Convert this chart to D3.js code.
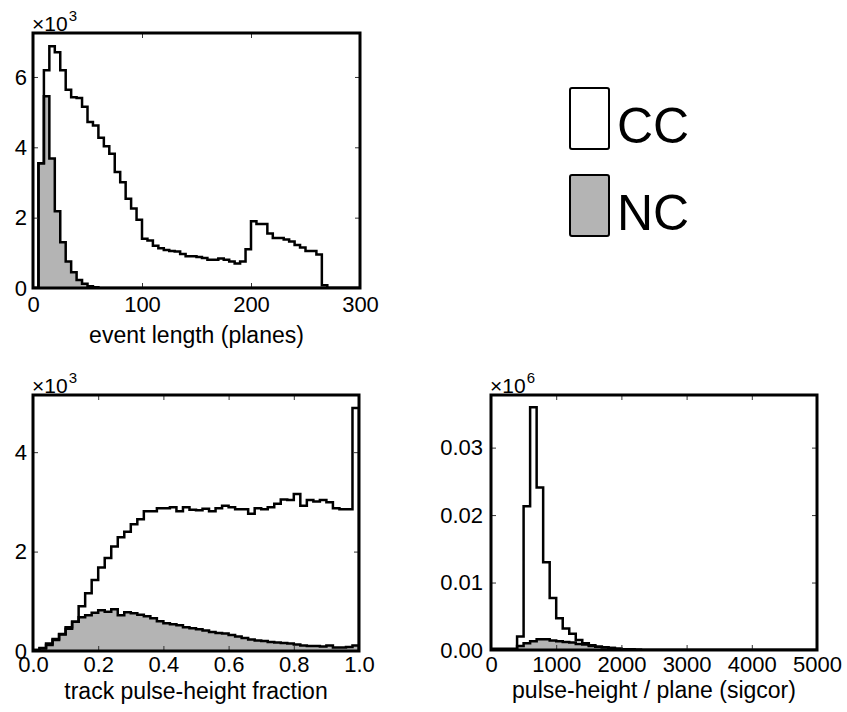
<!DOCTYPE html>
<html>
<head>
<meta charset="utf-8">
<title>CC / NC distributions</title>
<style>
body { margin: 0; background: #fff; }
svg text { font-family: 'Liberation Sans', Arial, Helvetica, sans-serif; fill: #000; }
</style>
</head>
<body>
<div id="chart"></div>
<script src="https://cdn.jsdelivr.net/npm/d3@7"></script>
<script>
// event length (planes): bins of 5 from 0 to 300, in units of 10^3
var lenBinWidth = 5;
var lenCC = [0, 3.55, 6.19, 6.87, 6.70, 6.19, 5.64, 5.42, 5.40, 5.15,
             4.72, 4.62, 4.27, 4.03, 3.82, 3.30, 3.01, 2.54, 2.26, 1.94,
             1.40, 1.35, 1.20, 1.13, 1.08, 1.05, 1.04, 0.97, 0.90, 0.90,
             0.88, 0.85, 0.80, 0.80, 0.84, 0.80, 0.75, 0.70, 0.75, 1.10,
             1.90, 1.82, 1.82, 1.55, 1.42, 1.42, 1.38, 1.32, 1.22, 1.15,
             1.05, 1.05, 0.95, 0.08, 0, 0, 0, 0, 0, 0];
var lenNC = [0, 3.55, 5.45, 3.68, 2.18, 1.30, 0.75, 0.45, 0.23, 0.12,
             0.05, 0.02, 0, 0, 0, 0, 0, 0, 0, 0,
             0, 0, 0, 0, 0, 0, 0, 0, 0, 0,
             0, 0, 0, 0, 0, 0, 0, 0, 0, 0,
             0, 0, 0, 0, 0, 0, 0, 0, 0, 0,
             0, 0, 0, 0, 0, 0, 0, 0, 0, 0];
var lenXTicks = [0, 100, 200, 300];
var lenYTicks = [0, 2, 4, 6];

// track pulse-height fraction: bins of 0.02 from 0 to 1, in units of 10^3
var fracBinWidth = 0.02;
var fracCC = [0.02, 0.05, 0.12, 0.22, 0.33, 0.45, 0.59, 0.90, 1.16, 1.43,
              1.68, 1.87, 2.10, 2.29, 2.40, 2.55, 2.65, 2.81, 2.81, 2.87,
              2.87, 2.89, 2.81, 2.89, 2.84, 2.83, 2.86, 2.81, 2.87, 2.92,
              2.89, 2.85, 2.85, 2.76, 2.87, 2.85, 2.89, 2.96, 3.05, 3.04,
              3.16, 2.92, 3.04, 3.01, 3.04, 2.99, 2.87, 2.85, 2.85, 4.89];
var fracNC = [0.02, 0.06, 0.15, 0.24, 0.34, 0.48, 0.59, 0.68, 0.72, 0.77,
              0.82, 0.79, 0.84, 0.72, 0.78, 0.76, 0.73, 0.70, 0.66, 0.60,
              0.56, 0.54, 0.52, 0.48, 0.46, 0.44, 0.41, 0.38, 0.36, 0.35,
              0.32, 0.29, 0.26, 0.23, 0.21, 0.20, 0.18, 0.17, 0.16, 0.15,
              0.13, 0.11, 0.10, 0.10, 0.09, 0.11, 0.07, 0.07, 0.08, 0.11];
var fracXTicks = [0, 0.2, 0.4, 0.6, 0.8, 1.0];
var fracYTicks = [0, 2, 4];

// pulse-height / plane (sigcor): bins of 100 from 0 to 5000, in units of 10^6
var phBinWidth = 100;
var phCC = [0.0001, 0.0001, 0.0001, 0.0001, 0.0020, 0.0213, 0.0360, 0.0241, 0.0130, 0.0077,
            0.0047, 0.0032, 0.0024, 0.0015, 0.0010, 0.0007, 0.0005, 0.0004, 0.0003, 0.0002,
            0.0001, 0.0001, 0.00005, 0, 0, 0, 0, 0, 0, 0,
            0, 0, 0, 0, 0, 0, 0, 0, 0, 0,
            0, 0, 0, 0, 0, 0, 0, 0, 0, 0];
var phNC = [0.0002, 0.0002, 0.0002, 0.0002, 0.0006, 0.0010, 0.0013, 0.0016, 0.0016, 0.0014,
            0.0013, 0.0012, 0.0011, 0.0009, 0.0008, 0.0006, 0.0005, 0.0004, 0.0003, 0.0002,
            0.0001, 0.0001, 0.00005, 0, 0, 0, 0, 0, 0, 0,
            0, 0, 0, 0, 0, 0, 0, 0, 0, 0,
            0, 0, 0, 0, 0, 0, 0, 0, 0, 0];
var phXTicks = [0, 1000, 2000, 3000, 4000, 5000];
var phYTicks = [0, 0.01, 0.02, 0.03];

var legendLabels = ['CC', 'NC'];

var W = 847, H = 712;
var ncGrey = '#b4b4b4';

var svg = d3.select('#chart').append('svg')
  .attr('width', W).attr('height', H)
  .style('display', 'block');

svg.append('rect').attr('width', W).attr('height', H).attr('fill', '#fff');

// turn bin contents into the outline of a step histogram
function stepPoints(vals, width) {
  var pts = [[0, 0]];
  vals.forEach(function (v, i) {
    pts.push([i * width, v]);
    pts.push([(i + 1) * width, v]);
  });
  pts.push([vals.length * width, 0]);
  return pts;
}

function drawPanel(p) {
  var x = d3.scaleLinear().domain(p.xDomain).range([p.left, p.right]);
  var y = d3.scaleLinear().domain(p.yDomain).range([p.bottom, p.top]);
  var g = svg.append('g');

  var clipId = 'clip' + p.id;
  svg.append('clipPath').attr('id', clipId)
    .append('rect')
      .attr('x', p.left).attr('y', p.top)
      .attr('width', p.right - p.left).attr('height', p.bottom - p.top);

  var line = d3.line()
    .x(function (d) { return x(d[0]); })
    .y(function (d) { return y(d[1]); });
  var area = d3.area()
    .x(function (d) { return x(d[0]); })
    .y0(y(0))
    .y1(function (d) { return y(d[1]); });

  var ccPts = stepPoints(p.cc, p.binWidth);
  var ncPts = stepPoints(p.nc, p.binWidth);

  var hist = g.append('g').attr('clip-path', 'url(#' + clipId + ')');
  hist.append('path').datum(ncPts)
    .attr('d', area).attr('fill', ncGrey);
  hist.append('path').datum(ccPts)
    .attr('d', line).attr('fill', 'none')
    .attr('stroke', '#000').attr('stroke-width', 2.5);
  hist.append('path').datum(ncPts)
    .attr('d', line).attr('fill', 'none')
    .attr('stroke', '#000').attr('stroke-width', 2.5);

  // axes: ticks inward on all four sides, labels bottom and left
  var xb = g.append('g').attr('transform', 'translate(0,' + p.bottom + ')')
    .call(d3.axisBottom(x).tickValues(p.xTicks).tickSize(-5)
      .tickPadding(p.xPad).tickFormat(p.xFormat));
  var xt = g.append('g').attr('transform', 'translate(0,' + p.top + ')')
    .call(d3.axisTop(x).tickValues(p.xTicks).tickSize(-5).tickFormat(''));
  var yl = g.append('g').attr('transform', 'translate(' + p.left + ',0)')
    .call(d3.axisLeft(y).tickValues(p.yTicks).tickSize(-5)
      .tickPadding(p.yPad).tickFormat(p.yFormat));
  var yr = g.append('g').attr('transform', 'translate(' + p.right + ',0)')
    .call(d3.axisRight(y).tickValues(p.yTicks).tickSize(-5).tickFormat(''));

  [xb, xt, yl, yr].forEach(function (a) {
    a.select('.domain').remove();
    a.selectAll('.tick line').attr('stroke', '#333').attr('stroke-width', 1);
    a.selectAll('text').style('font-size', '22px')
      .style('font-family', "'Liberation Sans', Arial, sans-serif").attr('fill', '#000');
  });

  // frame
  g.append('rect')
    .attr('x', p.left).attr('y', p.top)
    .attr('width', p.right - p.left).attr('height', p.bottom - p.top)
    .attr('fill', 'none').attr('stroke', '#000').attr('stroke-width', 3);

  // axis title
  g.append('text')
    .attr('x', (p.left + p.right) / 2).attr('y', p.titleY)
    .attr('text-anchor', 'middle')
    .style('font-size', '23px')
    .text(p.title);

  // multiplier above the frame
  var m = g.append('text')
    .attr('x', p.left - 1).attr('y', p.top - 2)
    .style('font-size', '21px');
  m.append('tspan').text('\u00d710');
  m.append('tspan').attr('dx', 1).attr('dy', -10).style('font-size', '15px').text(p.power);
}

drawPanel({
  id: 'len', left: 33, right: 360, top: 33, bottom: 288,
  xDomain: [0, 300], yDomain: [0, 7.25],
  binWidth: lenBinWidth, cc: lenCC, nc: lenNC,
  xTicks: lenXTicks, yTicks: lenYTicks,
  xFormat: d3.format('d'), yFormat: d3.format('d'),
  xPad: 8, yPad: 6, titleY: 343,
  title: 'event length (planes)', power: '3'
});

drawPanel({
  id: 'frac', left: 33, right: 359, top: 395, bottom: 651,
  xDomain: [0, 1], yDomain: [0, 5.15],
  binWidth: fracBinWidth, cc: fracCC, nc: fracNC,
  xTicks: fracXTicks, yTicks: fracYTicks,
  xFormat: d3.format('.1f'), yFormat: d3.format('d'),
  xPad: 5, yPad: 6, titleY: 699,
  title: 'track pulse-height fraction', power: '3'
});

drawPanel({
  id: 'ph', left: 491, right: 817, top: 395, bottom: 650,
  xDomain: [0, 5000], yDomain: [0, 0.0378],
  binWidth: phBinWidth, cc: phCC, nc: phNC,
  xTicks: phXTicks, yTicks: phYTicks,
  xFormat: d3.format('d'), yFormat: d3.format('.2f'),
  xPad: 6, yPad: 8, titleY: 698,
  title: 'pulse-height / plane (sigcor)', power: '6'
});

// legend
var legend = svg.append('g').attr('transform', 'translate(570,88)');
var legItems = legend.selectAll('g').data(legendLabels).enter().append('g')
  .attr('transform', function (d, i) { return 'translate(0,' + (i * 87) + ')'; });
legItems.append('rect')
  .attr('width', 39).attr('height', 61).attr('rx', 2)
  .attr('fill', function (d, i) { return i === 0 ? '#fff' : ncGrey; })
  .attr('stroke', '#000').attr('stroke-width', 2);
legItems.append('text')
  .attr('x', 47).attr('y', 55)
  .style('font-size', '50px')
  .text(function (d) { return d; });
</script>
</body>
</html>
